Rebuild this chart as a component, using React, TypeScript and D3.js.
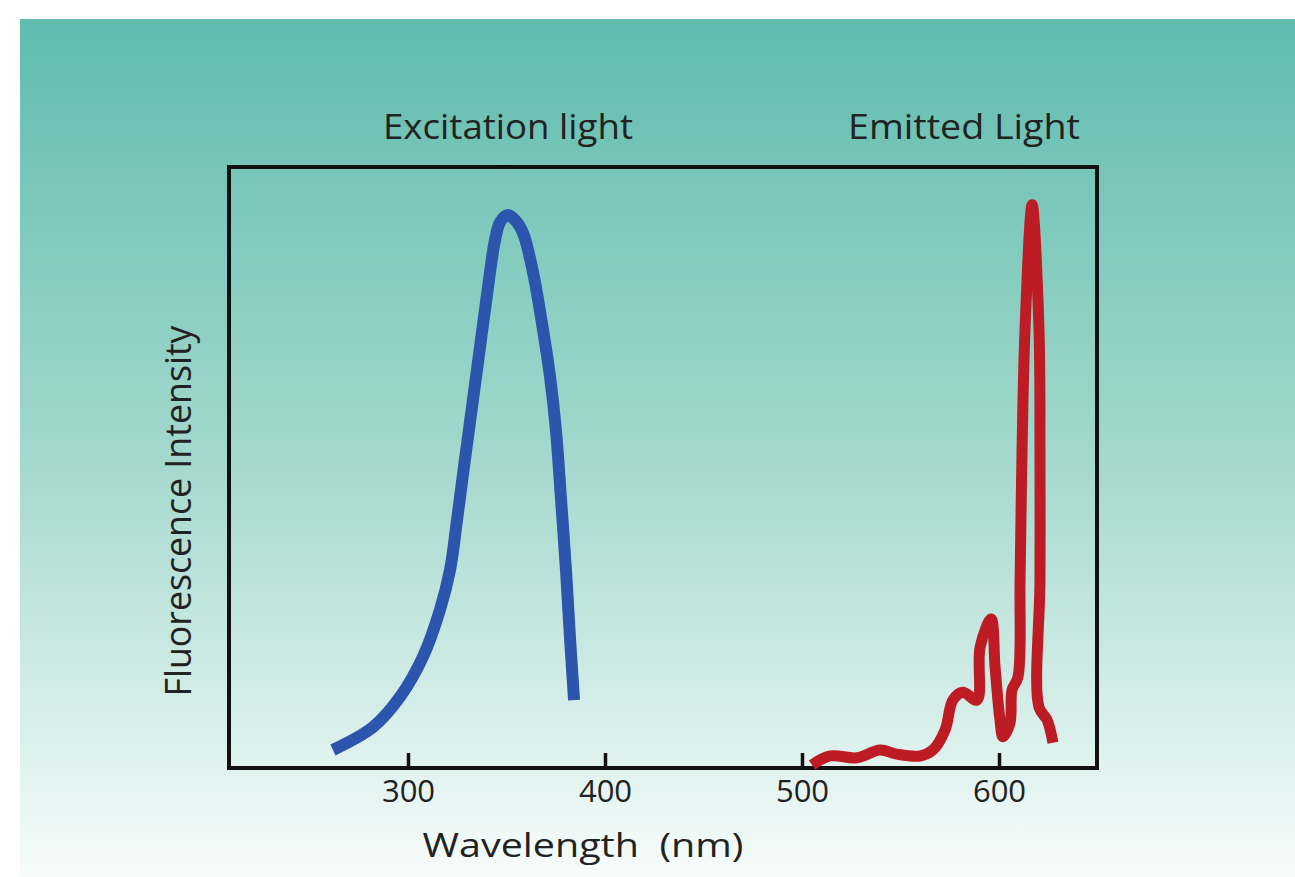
import React, { useEffect, useRef } from "react";
import { select, scaleLinear, axisBottom, line, curveCatmullRom } from "d3";

// excitation spectrum (blue): wavelength nm, relative intensity
const excitationNm = [261.9, 282.2, 295.9, 307.6, 316.2, 321.3, 324.9, 328.2, 335.0, 341.6, 344.2, 346.7, 350.3, 354.3, 358.4, 363.5, 368.0, 372.1, 375.1, 377.7, 380.2, 382.2, 384.3];
const excitationVal = [3.0, 6.8, 11.8, 18.5, 26.3, 32.9, 41.3, 49.6, 66.2, 82.4, 87.9, 90.8, 92.0, 91.2, 89.0, 82.4, 74.0, 65.1, 56.2, 44.6, 32.9, 21.8, 11.3];

// emission spectrum (red), hand drawn so it doubles back on itself at the big peak
const emissionNm = [505.1, 514.2, 527.9, 539.6, 548.2, 559.9, 566.5, 572.6, 576.6, 581.7, 588.8, 590.4, 596.0, 598.0, 600.5, 602.0, 605.6, 606.6, 609.6, 610.7, 611.7, 613.2, 616.8, 620.3, 620.8, 620.8, 620.3, 624.4, 627.4];
const emissionVal = [0.5, 2.0, 1.7, 3.0, 2.3, 2.0, 3.0, 6.3, 11.3, 12.6, 11.3, 20.1, 24.8, 16.8, 8.0, 5.2, 7.5, 13.0, 15.1, 31.3, 52.9, 72.9, 93.7, 72.9, 52.9, 31.3, 10.1, 8.0, 4.2];

const xTicks = [300, 400, 500, 600];

const W = 1295;
const H = 877;
const FRAME = { left: 229, top: 167, right: 1097, bottom: 768 };
const FONT = "'Open Sans', 'Noto Sans', sans-serif";
const INK = "#222";

const App: React.FC = () => {
  const svgRef = useRef<SVGSVGElement>(null);

  useEffect(() => {
    document.body.style.margin = "0";
    document.body.style.overflow = "hidden";

    const svg = select(svgRef.current);
    svg.selectAll("*").remove();

    const grad = svg
      .append("defs")
      .append("linearGradient")
      .attr("id", "bg")
      .attr("x1", 0)
      .attr("y1", 0)
      .attr("x2", 0)
      .attr("y2", 1);
    grad.append("stop").attr("offset", "0%").attr("stop-color", "#5fbcae");
    grad.append("stop").attr("offset", "50%").attr("stop-color", "#a3d8cd");
    grad.append("stop").attr("offset", "100%").attr("stop-color", "#fbfefd");

    svg
      .append("rect")
      .attr("x", 20)
      .attr("y", 19)
      .attr("width", W)
      .attr("height", H)
      .attr("fill", "url(#bg)");

    const x = scaleLinear().domain([300, 600]).range([408, 999]);
    const y = scaleLinear().domain([0, 100]).range([FRAME.bottom, FRAME.top]);

    const xAxis = svg
      .append("g")
      .attr("transform", `translate(0,${FRAME.bottom})`)
      .call(axisBottom(x).tickValues(xTicks).tickSizeInner(-15).tickSizeOuter(0).tickPadding(12));
    xAxis.select(".domain").remove();
    xAxis.selectAll(".tick line").attr("stroke", "#111").attr("stroke-width", 3.5);
    xAxis
      .selectAll(".tick text")
      .attr("fill", INK)
      .style("font-family", FONT)
      .style("font-size", "31px");

    svg
      .append("rect")
      .attr("x", FRAME.left)
      .attr("y", FRAME.top)
      .attr("width", FRAME.right - FRAME.left)
      .attr("height", FRAME.bottom - FRAME.top)
      .attr("fill", "none")
      .attr("stroke", "#111")
      .attr("stroke-width", 4);

    const exc = excitationNm.map((d, i) => [x(d), y(excitationVal[i])] as [number, number]);
    svg
      .append("path")
      .attr("d", line().curve(curveCatmullRom.alpha(0.5))(exc) as string)
      .attr("fill", "none")
      .attr("stroke", "#2c55ad")
      .attr("stroke-width", 12);

    const em = emissionNm.map((d, i) => [x(d), y(emissionVal[i])] as [number, number]);
    svg
      .append("path")
      .attr("d", line().curve(curveCatmullRom.alpha(0.5))(em) as string)
      .attr("fill", "none")
      .attr("stroke", "#bd1c24")
      .attr("stroke-width", 11)
      .attr("stroke-linejoin", "round");

    const label = (t: string, px: number, py: number, size: number, len: number, rot = 0) =>
      svg
        .append("text")
        .attr("transform", `translate(${px},${py}) rotate(${rot})`)
        .attr("text-anchor", "middle")
        .attr("fill", INK)
        .attr("textLength", len)
        .attr("lengthAdjust", "spacingAndGlyphs")
        .style("font-family", FONT)
        .style("font-size", `${size}px`)
        .text(t);

    label("Excitation light", 508, 139, 35, 250);
    label("Emitted Light", 964, 139, 35, 232);
    label("Wavelength\u00a0 (nm)", 583, 857, 32, 321);
    label("Fluorescence Intensity", 191, 511, 36, 371, -90);
  }, []);

  return (
    <svg
      ref={svgRef}
      width={W}
      height={H}
      style={{ position: "absolute", left: 0, top: 0, display: "block" }}
    />
  );
};

export default App;
